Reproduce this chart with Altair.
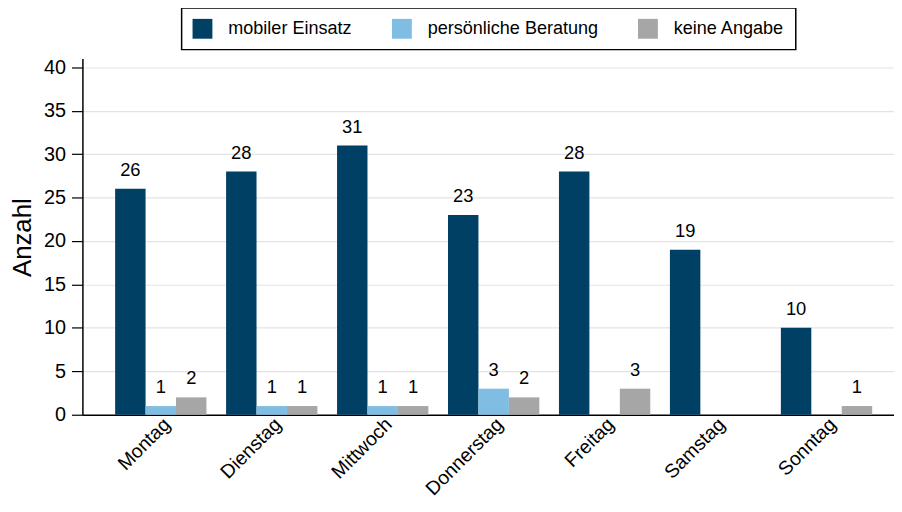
import altair as alt
import pandas as pd

tage = ["Montag", "Dienstag", "Mittwoch", "Donnerstag", "Freitag", "Samstag", "Sonntag"]
kategorien = ["mobiler Einsatz", "persönliche Beratung", "keine Angabe"]
mobil = [26, 28, 31, 23, 28, 19, 10]
beratung = [1, 1, 1, 3, 0, 0, 0]
keine = [2, 1, 1, 2, 3, 0, 1]
farben = ["#004064", "#7fbde2", "#a6a6a6"]
y_ticks = [0, 5, 10, 15, 20, 25, 30, 35, 40]

rows = []
for i, t in enumerate(tage):
    for k, vals in zip(kategorien, [mobil, beratung, keine]):
        v = vals[i]
        rows.append({"Tag": t, "Kategorie": k, "Anzahl": v, "Label": str(v) if v > 0 else ""})
df = pd.DataFrame(rows)

FONT = "Liberation Sans"

x = alt.X("Tag:N", sort=tage,
          scale=alt.Scale(domain=tage, paddingInner=0.177, paddingOuter=0.2458,
                          align=0.6, round=False),
          axis=alt.Axis(title=None, labelAngle=-45, labelFontSize=19.5, labelColor="black",
                        ticks=False, domainColor="black", domainWidth=1.5, labelPadding=0,
                        labelFont=FONT, grid=False, labelLimit=0))
xo = alt.XOffset("Kategorie:N", sort=kategorien,
                 scale=alt.Scale(domain=kategorien, paddingInner=0, paddingOuter=0, round=False))
y = alt.Y("Anzahl:Q", scale=alt.Scale(domain=[0, 41], nice=False),
          axis=alt.Axis(title="Anzahl", values=y_ticks, labelFontSize=20, labelColor="black",
                        labelFont=FONT, tickSize=11, tickColor="black", tickWidth=1.2,
                        labelPadding=6, domainColor="black", domainWidth=1.5,
                        gridColor="#e3e3e3", gridWidth=1.2,
                        titleFontSize=26, titleFontWeight="normal", titleColor="black",
                        titleFont=FONT, titleX=-60, titleY=180, titleBaseline="middle",
                        titleAlign="center"))

color = alt.Color("Kategorie:N", sort=kategorien,
                  scale=alt.Scale(domain=kategorien, range=farben),
                  legend=alt.Legend(orient="none", legendX=100, legendY=-51,
                                    direction="horizontal", title=None,
                                    symbolType="square", symbolSize=400, symbolStrokeWidth=0,
                                    labelFontSize=18.2, labelFont=FONT, labelColor="black",
                                    labelOffset=16, columnPadding=40, padding=11, labelLimit=0,
                                    strokeColor="black", fillColor="white"))

bars = alt.Chart(df).mark_bar().encode(x=x, xOffset=xo, y=y, color=color)
text = alt.Chart(df).mark_text(dy=-13, baseline="alphabetic", fontSize=18.5, font=FONT,
                               color="black").encode(x=x, xOffset=xo, y=y, text="Label:N")

chart = alt.layer(bars, text).properties(
    width=818, height=359,
    autosize=alt.AutoSizeParams(type="none"),
    padding={"left": 75, "top": 49, "right": 0, "bottom": 87},
).configure_view(stroke=None).configure_legend(strokeWidth=1.5)

chart.save("out.html", embed_options={"renderer": "svg", "actions": False})
